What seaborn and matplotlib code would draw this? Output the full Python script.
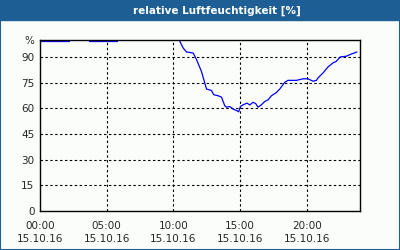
import numpy as np
import pandas as pd
import matplotlib
matplotlib.use("Agg")
import matplotlib.pyplot as plt
import seaborn as sns

sns.set_style("white")
plt.rcParams['font.family'] = ['DejaVu Sans']

title = "relative Luftfeuchtigkeit [%]"
date_label = "15.10.16"
x_tick_hours = [0, 5, 10, 15, 20]
x_tick_times = ["00:00", "05:00", "10:00", "15:00", "20:00"]
y_ticks = [0, 15, 30, 45, 60, 75, 90, 100]
y_tick_labels = ["0", "15", "30", "45", "60", "75", "90", "%"]

seg1_hours = [0.05, 2.2]
seg1_values = [99.6, 99.6]
seg2_hours = [3.67, 5.75]
seg2_values = [99.6, 99.6]
seg3_hours = [10.45, 10.74, 10.99, 11.49, 11.74, 12.11, 12.36, 12.49, 12.86, 13.03,
              13.36, 13.61, 13.86, 13.98, 14.23, 14.48, 14.73, 14.9, 15.03, 15.23,
              15.53, 15.73, 15.98, 16.18, 16.35, 16.6, 16.85, 17.1, 17.36, 17.73,
              17.98, 18.35, 18.6, 19.23, 19.73, 20.1, 20.48, 20.73, 20.85, 21.22,
              21.6, 21.97, 22.22, 22.52, 22.97, 23.35, 23.77]
seg3_values = [99.8, 95.3, 93.0, 92.4, 88.5, 81.6, 74.8, 71.3, 70.5, 68.0,
               67.4, 66.6, 61.5, 60.7, 61.1, 59.6, 58.8, 58.0, 61.1, 62.1,
               63.1, 62.0, 63.6, 62.8, 60.7, 62.1, 64.0, 65.0, 67.4, 69.3,
               71.3, 75.2, 76.4, 76.4, 77.3, 77.3, 75.9, 76.4, 77.8, 80.7,
               84.2, 86.6, 87.5, 90.1, 90.5, 91.8, 93.0]

df = pd.concat([
    pd.DataFrame({"h": seg1_hours, "v": seg1_values, "seg": 1}),
    pd.DataFrame({"h": seg2_hours, "v": seg2_values, "seg": 2}),
    pd.DataFrame({"h": seg3_hours, "v": seg3_values, "seg": 3}),
])

bg = "#fbfdfb"
blue_bar = "#1d5f95"

fig = plt.figure(figsize=(4, 2.5), dpi=100, facecolor=bg)
ax = fig.add_axes([0.1, 0.156, 0.8, 0.684])
ax.set_facecolor(bg)

sns.lineplot(data=df, x="h", y="v", units="seg", estimator=None,
             color="#0000ff", linewidth=0.9, ax=ax, legend=False)

ax.set_xlim(0, 24)
ax.set_ylim(0, 100)
ax.set_xlabel("")
ax.set_ylabel("")

ax.set_xticks(x_tick_hours)
ax.set_xticklabels([f"{t}\n{date_label}" for t in x_tick_times], fontsize=7.5,
                   linespacing=1.45)
ax.set_xticks(range(0, 25), minor=True)
ax.set_yticks(y_ticks)
ax.set_yticklabels(y_tick_labels, fontsize=7.5)
ax.tick_params(axis="x", which="both", direction="in", length=3, width=0.8,
               color="black", pad=7, top=False)
ax.tick_params(axis="y", which="both", direction="out", length=2, width=0.8,
               color="black", pad=2)

for s in ax.spines.values():
    s.set_color("black")
    s.set_linewidth(1.0)

for h in x_tick_hours[1:]:
    ax.axvline(h, color="black", lw=0.8, ls=(0, (2.2, 2.2)), zorder=1)
for y in y_ticks[1:-1]:
    ax.axhline(y, color="black", lw=0.8, ls=(0, (2.2, 2.2)), zorder=1)

# title bar and frame
fig.patches.append(plt.Rectangle((0, 1 - 20 / 250), 1, 20 / 250,
                                 transform=fig.transFigure, color=blue_bar, zorder=0))
fig.patches.append(plt.Rectangle((0, 0), 1, 1, transform=fig.transFigure,
                                 fill=False, edgecolor=blue_bar, lw=1.5, zorder=0))
fig.text(217 / 400, 1 - 10.5 / 250, title, color="white", fontsize=7.5,
         fontweight="bold", ha="center", va="center")

fig.savefig("out.png", dpi=100, facecolor=bg)
